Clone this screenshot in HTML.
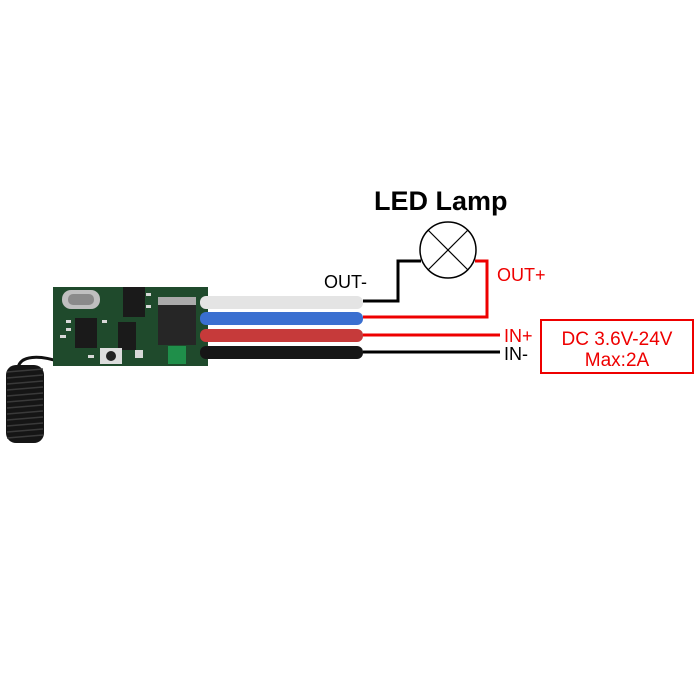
<!DOCTYPE html>
<html><head><style>
body{margin:0;background:#fff;width:700px;height:700px;overflow:hidden}
svg{display:block}
text{font-family:"Liberation Sans",sans-serif}
</style></head><body>
<svg width="700" height="700" viewBox="0 0 700 700" xmlns="http://www.w3.org/2000/svg">
<rect width="700" height="700" fill="#fff"/>
<!-- antenna -->
<path d="M60 362 C40 355,20 355,18 368" stroke="#111" stroke-width="3" fill="none"/>
<rect x="6" y="365" width="38" height="78" rx="10" fill="#151515"/>
<g stroke="#3a3a3a" stroke-width="1.5">
<line x1="7" y1="372" x2="43" y2="369"/><line x1="7" y1="378" x2="43" y2="375"/><line x1="7" y1="384" x2="43" y2="381"/><line x1="7" y1="390" x2="43" y2="387"/><line x1="7" y1="396" x2="43" y2="393"/><line x1="7" y1="402" x2="43" y2="399"/><line x1="7" y1="408" x2="43" y2="405"/><line x1="7" y1="414" x2="43" y2="411"/><line x1="7" y1="420" x2="43" y2="417"/><line x1="7" y1="426" x2="43" y2="423"/><line x1="7" y1="432" x2="43" y2="429"/><line x1="7" y1="438" x2="43" y2="435"/>
</g>
<!-- PCB -->
<rect x="53" y="287" width="155" height="79" fill="#1f4a2c"/>
<rect x="62" y="290" width="38" height="19" rx="9" fill="#bfbfbf"/>
<rect x="68" y="294" width="26" height="11" rx="5" fill="#8a8a8a"/>
<rect x="75" y="318" width="22" height="30" fill="#1a1a1a"/>
<rect x="123" y="287" width="22" height="30" fill="#1a1a1a"/>
<rect x="118" y="322" width="18" height="28" fill="#1a1a1a"/>
<rect x="158" y="303" width="38" height="42" fill="#262626"/>
<rect x="158" y="297" width="38" height="8" fill="#aaa"/>
<rect x="100" y="348" width="22" height="16" fill="#ddd"/>
<circle cx="111" cy="356" r="5" fill="#222"/>
<rect x="168" y="346" width="18" height="18" fill="#1f8f4a"/>
<g fill="#d8d8d8"><rect x="60" y="335" width="6" height="3"/><rect x="88" y="355" width="6" height="3"/><rect x="146" y="293" width="5" height="3"/><rect x="146" y="305" width="5" height="3"/><rect x="66" y="320" width="5" height="3"/><rect x="66" y="328" width="5" height="3"/><rect x="102" y="320" width="5" height="3"/><rect x="135" y="350" width="8" height="8"/></g>
<!-- wires -->
<rect x="200" y="296" width="163" height="13" rx="6" fill="#e4e4e4"/>
<rect x="200" y="312" width="163" height="13" rx="6" fill="#3a6fd0"/>
<rect x="200" y="329" width="163" height="13" rx="6" fill="#c63a3a"/>
<rect x="200" y="346" width="163" height="13" rx="6" fill="#161616"/>
<!-- connectors -->
<polyline points="363,301 398,301 398,261 421,261" fill="none" stroke="#000" stroke-width="3"/>
<polyline points="475,261 487,261 487,317 363,317" fill="none" stroke="#e00" stroke-width="3"/>
<line x1="363" y1="335" x2="500" y2="335" stroke="#e00" stroke-width="3"/>
<line x1="363" y1="352" x2="500" y2="352" stroke="#000" stroke-width="3"/>
<circle cx="448" cy="250" r="28" fill="#fff" stroke="#000" stroke-width="1.5"/>
<line x1="428" y1="230" x2="468" y2="270" stroke="#000" stroke-width="1.2"/>
<line x1="468" y1="230" x2="428" y2="270" stroke="#000" stroke-width="1.2"/>
<rect x="541" y="320" width="152" height="53" fill="#fff" stroke="#e00" stroke-width="2"/>
<text x="374" y="210" font-size="27" font-weight="bold">LED Lamp</text>
<text x="324" y="288" font-size="18">OUT-</text>
<text x="497" y="281" font-size="18" fill="#e00">OUT+</text>
<text x="504" y="342" font-size="18" fill="#e00">IN+</text>
<text x="504" y="360" font-size="18">IN-</text>
<text x="617" y="345" font-size="19" fill="#e00" text-anchor="middle">DC 3.6V-24V</text>
<text x="617" y="366" font-size="19" fill="#e00" text-anchor="middle">Max:2A</text>
</svg>
</body></html>
